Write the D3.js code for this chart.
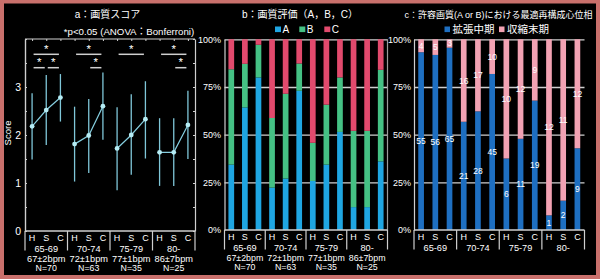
<!DOCTYPE html>
<html>
<head>
<meta charset="utf-8">
<title>画質スコア・画質評価・最適再構成心位相</title>
<script src="https://cdn.jsdelivr.net/npm/d3@7"></script>
<style>
  html, body { margin: 0; padding: 0; background: #000; }
  svg { display: block; font-family: "Liberation Sans", Arial, "Noto Sans CJK JP", sans-serif; }
  text { fill: #fff; }
  .domain { stroke: #cfcfcf; stroke-width: 1.2px; }
  .tick line { stroke: #cfcfcf; }
</style>
</head>
<body>
<svg class="svg" width="600" height="279"></svg>
<script>
var groups = ["65-69", "70-74", "75-79", "80-"];
var phases = ["H", "S", "C"];
var hrLabels = ["67±2bpm", "72±1bpm", "77±1bpm", "86±7bpm"];
var nLabels = ["N=70", "N=63", "N=35", "N=25"];

// a: 画質スコア  (order: 65-69 H,S,C / 70-74 H,S,C / ...)
var scoreMean = [2.18, 2.52, 2.78, 1.81, 1.99, 2.60, 1.72, 2.00, 2.33, 1.64, 1.64, 2.21];
var scoreLow  = [1.49, 1.79, 2.28, 1.03, 1.21, 1.90, 0.85, 1.17, 1.51, 0.94, 0.94, 1.50];
var scoreHigh = [2.87, 3.25, 3.27, 2.59, 2.75, 3.30, 2.58, 2.85, 3.12, 2.35, 2.35, 2.92];
var scoreTicks = [0, 1, 2, 3];
// 有意差: [from, to, row]
var sigPairs = [[0, 2, 0], [0, 1, 1], [1, 2, 1], [3, 5, 0], [4, 5, 1], [6, 8, 0], [9, 11, 0], [10, 11, 1]];

// b: 画質評価 (人数)
var gradeA = [24, 45, 56, 14, 17, 46, 9, 12, 18, 3, 3, 9];
var gradeB = [35, 16, 12, 23, 28, 9, 7, 11, 10, 10, 10, 12];
var gradeC = [11, 9, 2, 26, 18, 8, 19, 12, 7, 12, 12, 4];

// c: 許容画質における最適位相 (人数)
var midDiastole = [55, 56, 65, 21, 28, 45, 6, 11, 19, 1, 2, 9];
var endSystole  = [4, 5, 3, 16, 17, 10, 10, 12, 9, 12, 11, 12];
var pctTicks = [0, 25, 50, 75, 100];

var colA = '#1fa6e2', colB = '#45c184', colC = '#e24a6d';
var colMid = '#1e6fc1', colEnd = '#f2a2b3';

var svg = d3.select('.svg');
svg.append('rect').attr('width', 600).attr('height', 279).attr('fill', '#c9706c');
svg.append('rect').attr('x', 4).attr('y', 3.5).attr('width', 592).attr('height', 271.5).attr('fill', '#000');

var idx = d3.range(12);

// x軸ラベル (H S C / 年齢 / 心拍数)
function xLabels(g, x, base, showHr) {
  var r0 = x.range()[0], r1 = x.range()[1], step = x.step();
  g.append('line')
    .attr('x1', r0).attr('x2', r1).attr('y1', base).attr('y2', base)
    .attr('stroke', '#cfcfcf').attr('stroke-width', 1.4);
  g.selectAll('.sep').data(d3.range(5)).enter().append('line')
    .attr('x1', k => r0 + k * 3 * step).attr('x2', k => r0 + k * 3 * step)
    .attr('y1', base).attr('y2', base + 19.5)
    .attr('stroke', '#cfcfcf').attr('stroke-width', 1.2);
  g.selectAll('.ph').data(idx).enter().append('text')
    .attr('x', d => x(d) + x.bandwidth() / 2).attr('y', base + 9.5)
    .attr('text-anchor', 'middle').attr('font-size', 9)
    .text(d => phases[d % 3]);
  g.selectAll('.grp').data(groups).enter().append('text')
    .attr('x', (d, k) => r0 + (k * 3 + 1.5) * step).attr('y', base + 20.5)
    .attr('text-anchor', 'middle').attr('font-size', 9.2)
    .text(d => d);
  if (showHr) {
    g.selectAll('.hr').data(hrLabels).enter().append('text')
      .attr('x', (d, k) => r0 + (k * 3 + 1.5) * step).attr('y', base + 30.8)
      .attr('text-anchor', 'middle').attr('font-size', 8.8)
      .attr('textLength', step * 3 - 4).attr('lengthAdjust', 'spacingAndGlyphs')
      .text(d => d);
    g.selectAll('.nn').data(nLabels).enter().append('text')
      .attr('x', (d, k) => r0 + (k * 3 + 1.5) * step).attr('y', base + 40)
      .attr('text-anchor', 'middle').attr('font-size', 8.8)
      .text(d => d);
  }
}

/* ---------- a: 画質スコア ---------- */
var ga = svg.append('g');
var xA = d3.scaleBand().domain(idx).range([25, 195]);
var yA = d3.scaleLinear().domain([0, 4]).range([231, 39]);
var cxA = d => xA(d) + xA.bandwidth() / 2;

ga.append('text').attr('x', 107.5).attr('y', 18).attr('text-anchor', 'middle')
  .attr('font-size', 10).text('a：画質スコア');
ga.append('text').attr('x', 129).attr('y', 34.5).attr('text-anchor', 'middle')
  .attr('font-size', 9.7).text('*p<0.05 (ANOVA：Bonferroni)');

ga.append('g').attr('transform', 'translate(25,0)')
  .call(d3.axisLeft(yA).tickValues(scoreTicks).tickFormat(d3.format('d')).tickSize(0).tickPadding(4))
  .call(g => g.selectAll('text').attr('font-size', 10.5).attr('fill', '#fff'));
ga.append('g').attr('transform', 'translate(25,0)')
  .call(d3.axisRight(yA).tickValues(d3.range(0, 4.01, 0.5)).tickSize(2).tickSizeOuter(0).tickFormat(''));
ga.append('g').attr('transform', 'translate(195,0)')
  .call(d3.axisLeft(yA).tickValues(d3.range(0, 4.01, 0.5)).tickSize(2).tickSizeOuter(0).tickFormat(''));
ga.append('g').attr('transform', 'translate(0,39)')
  .call(d3.axisBottom(d3.scalePoint().domain(idx).range([cxA(0), cxA(11)])).tickSize(2).tickSizeOuter(0).tickFormat(''))
  .call(g => g.select('.domain').attr('d', 'M25,0H195'));

ga.append('text').attr('transform', 'translate(11,133) rotate(-90)')
  .attr('text-anchor', 'middle').attr('font-size', 9.5).text('Score');

xLabels(ga, xA, 231, true);

// エラーバー
ga.selectAll('.err').data(idx).enter().append('line')
  .attr('x1', cxA).attr('x2', cxA)
  .attr('y1', d => yA(scoreLow[d])).attr('y2', d => yA(scoreHigh[d]))
  .attr('stroke', '#7fc6d8').attr('stroke-width', 1.3);

// 折れ線 (年齢群ごと)
var lineA = d3.line().x(cxA).y(d => yA(scoreMean[d]));
ga.selectAll('.sline').data(groups.map((g, k) => [k * 3, k * 3 + 1, k * 3 + 2])).enter().append('path')
  .attr('d', lineA).attr('fill', 'none').attr('stroke', '#86cfe0').attr('stroke-width', 1.2);

ga.selectAll('.dot').data(idx).enter().append('circle')
  .attr('cx', cxA).attr('cy', d => yA(scoreMean[d])).attr('r', 2.4)
  .attr('fill', '#b5ecf4');

// 有意差
var rowY = [54.3, 67.7];
ga.selectAll('.sig').data(sigPairs).enter().append('line')
  .attr('x1', d => cxA(d[0]) + 1.5).attr('x2', d => cxA(d[1]) - 1.5)
  .attr('y1', d => rowY[d[2]]).attr('y2', d => rowY[d[2]])
  .attr('stroke', '#cfcfcf').attr('stroke-width', 1.5);
ga.selectAll('.star').data(sigPairs).enter().append('text')
  .attr('x', d => (cxA(d[0]) + cxA(d[1])) / 2).attr('y', d => rowY[d[2]] - 1.6)
  .attr('text-anchor', 'middle').attr('font-size', 11.5).attr('fill', '#e6e6e6')
  .text('*');

/* ---------- b: 画質評価 ---------- */
var gb = svg.append('g');
var xB = d3.scaleBand().domain(idx).range([224.5, 387.5]).paddingInner(0.58).paddingOuter(0.29);
var yB = d3.scaleLinear().domain([0, 100]).range([230, 39.3]);

gb.append('text').attr('x', 300).attr('y', 18).attr('text-anchor', 'middle')
  .attr('font-size', 10).text('b：画質評価（A，B，C）');
var legB = [['A', colA, 275], ['B', colB, 299.3], ['C', colC, 324.3]];
gb.selectAll('.lr').data(legB).enter().append('rect')
  .attr('x', d => d[2]).attr('y', 26.5).attr('width', 6).attr('height', 5.6).attr('fill', d => d[1]);
gb.selectAll('.lt').data(legB).enter().append('text')
  .attr('x', d => d[2] + 7.5).attr('y', 32.5).attr('font-size', 10).text(d => d[0]);

gb.append('g').attr('transform', 'translate(224.5,0)')
  .call(d3.axisLeft(yB).tickValues(pctTicks.slice(1)).tickSize(-163).tickFormat(''))
  .call(g => g.select('.domain').remove())
  .call(g => g.selectAll('.tick line').attr('stroke', '#8e8e8e').attr('stroke-width', 1.3));
gb.append('line').attr('x1', 387.5).attr('x2', 387.5).attr('y1', 39.3).attr('y2', 230)
  .attr('stroke', '#9a9a9a').attr('stroke-width', 1.2);

var rowsB = idx.map(i => {
  var t = gradeA[i] + gradeB[i] + gradeC[i];
  return { i: i, A: gradeA[i] / t * 100, B: gradeB[i] / t * 100, C: gradeC[i] / t * 100 };
});
var stackB = d3.stack().keys(['A', 'B', 'C'])(rowsB);
var colB_ = { A: colA, B: colB, C: colC };
gb.selectAll('.layer').data(stackB).enter().append('g')
  .attr('fill', s => colB_[s.key])
  .selectAll('rect').data(s => s).enter().append('rect')
  .attr('x', d => xB(d.data.i)).attr('width', xB.bandwidth())
  .attr('y', d => yB(d[1])).attr('height', d => yB(d[0]) - yB(d[1]));

gb.append('g').attr('transform', 'translate(224.5,0)')
  .call(d3.axisLeft(yB).tickValues(pctTicks).tickFormat(d => d + '%').tickSize(0).tickPadding(3.5))
  .call(g => g.selectAll('text').attr('font-size', 9).attr('fill', '#fff'));

xLabels(gb, xB, 230, true);

/* ---------- c: 最適再構成心位相 ---------- */
var gc = svg.append('g');
var xC = d3.scaleBand().domain(idx).range([414, 584.5]).paddingInner(0.6).paddingOuter(0.3);
var yC = d3.scaleLinear().domain([0, 100]).range([230, 39.3]);

gc.append('text').attr('x', 498.5).attr('y', 18).attr('text-anchor', 'middle')
  .attr('font-size', 9)
  .text('c：許容画質(A or B)における最適再構成心位相');
var legC = [['拡張中期', colMid, 444.5], ['収縮末期', colEnd, 499]];
gc.selectAll('.lr').data(legC).enter().append('rect')
  .attr('x', d => d[2]).attr('y', 26.5).attr('width', 5.5).attr('height', 5.6).attr('fill', d => d[1]);
gc.selectAll('.lt').data(legC).enter().append('text')
  .attr('x', d => d[2] + 8).attr('y', 33).attr('font-size', 10.5).text(d => d[0]);

gc.append('g').attr('transform', 'translate(414,0)')
  .call(d3.axisLeft(yC).tickValues(pctTicks.slice(1)).tickSize(-170.5).tickFormat(''))
  .call(g => g.select('.domain').remove())
  .call(g => g.selectAll('.tick line').attr('stroke', '#8e8e8e').attr('stroke-width', 1.3));

var rowsC = idx.map(i => {
  var t = midDiastole[i] + endSystole[i];
  return { i: i, mid: midDiastole[i] / t * 100, end: endSystole[i] / t * 100, nMid: midDiastole[i], nEnd: endSystole[i] };
});
var stackC = d3.stack().keys(['mid', 'end'])(rowsC);
var colC_ = { mid: colMid, end: colEnd };
var layC = gc.selectAll('.layer').data(stackC).enter().append('g');
layC.selectAll('rect').data(s => s.map(d => Object.assign(d, { key: s.key }))).enter().append('rect')
  .attr('fill', d => colC_[d.key])
  .attr('x', d => xC(d.data.i)).attr('width', xC.bandwidth())
  .attr('y', d => yC(d[1])).attr('height', d => yC(d[0]) - yC(d[1]));
layC.selectAll('text').data(s => s).enter().append('text')
  .attr('x', d => xC(d.data.i) + xC.bandwidth() / 2)
  .attr('y', d => yC((d[0] + d[1]) / 2)).attr('dy', '0.35em')
  .attr('text-anchor', 'middle').attr('font-size', 8.5)
  .text(d => d.key === 'mid' ? d.data.nMid : d.data.nEnd);

gc.append('g').attr('transform', 'translate(414,0)')
  .call(d3.axisLeft(yC).tickValues(pctTicks).tickFormat(d => d + '%').tickSize(0).tickPadding(3))
  .call(g => g.selectAll('text').attr('font-size', 9).attr('fill', '#fff'));

xLabels(gc, xC, 230, false);
</script>
</body>
</html>
